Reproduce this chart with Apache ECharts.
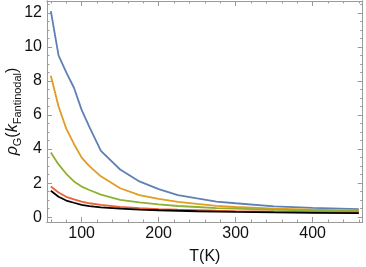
<!DOCTYPE html>
<html><head><meta charset="utf-8">
<script src="https://cdn.jsdelivr.net/npm/echarts@6/dist/echarts.min.js"></script>
<style>html,body{margin:0;padding:0;background:#fff}#c{width:366px;height:267px}</style>
</head><body><div id="c"></div>
<script>
const T = [60,70,80,90,100,110,125,150,175,200,225,250,275,300,350,400,460];
const blue   = [12.1,9.5,8.5,7.6,6.3,5.3,3.9,2.8,2.1,1.65,1.3,1.1,0.92,0.82,0.64,0.55,0.48];
const orange = [8.3,6.5,5.2,4.3,3.5,3.0,2.4,1.7,1.3,1.08,0.9,0.78,0.67,0.6,0.5,0.44,0.39];
const green  = [3.8,3.1,2.55,2.1,1.8,1.6,1.33,1.02,0.87,0.75,0.66,0.6,0.54,0.5,0.44,0.4,0.36];
const red    = [1.8,1.45,1.2,1.05,0.92,0.82,0.72,0.6,0.53,0.48,0.44,0.41,0.38,0.36,0.33,0.31,0.29];
const black  = [1.55,1.2,0.98,0.85,0.73,0.65,0.58,0.5,0.45,0.41,0.38,0.35,0.33,0.31,0.28,0.26,0.24];
const xMajor = [100,200,300,400];
const xMinor = [60,80,120,140,160,180,220,240,260,280,320,340,360,380,420,440,460];
const yMajor = [0,2,4,6,8,10,12];
const yMinor = [0.5,1,1.5,2.5,3,3.5,4.5,5,5.5,6.5,7,7.5,8.5,9,9.5,10.5,11,11.5,12.5];

const FRAME = '#9a9a9a';
const FONT = 'Liberation Sans';
function xAx(pos, vals, len, labels, extra) {
  return Object.assign({
    type:'value', min:55, max:465, position:pos,
    axisLine:{show:true, onZero:false, lineStyle:{color:FRAME, width:1}},
    axisTick:{show:true, inside:true, length:len, customValues:vals, lineStyle:{color:FRAME}},
    axisLabel:{show:labels, customValues:vals, fontFamily:FONT, fontSize:16, color:'#111', margin:4},
    splitLine:{show:false}
  }, extra||{});
}
function yAx(pos, vals, len, labels, extra) {
  return Object.assign({
    type:'value', min:-0.28, max:12.69, position:pos,
    axisLine:{show:true, onZero:false, lineStyle:{color:FRAME, width:1}},
    axisTick:{show:true, inside:true, length:len, customValues:vals, lineStyle:{color:FRAME}},
    axisLabel:{show:labels, customValues:vals, fontFamily:FONT, fontSize:16, color:'#111', margin:5},
    splitLine:{show:false}
  }, extra||{});
}
function ser(d, color) {
  return {type:'line', data:T.map((t,i)=>[t,d[i]]), showSymbol:false, symbol:'none',
    lineStyle:{color:color, width:1.8}, itemStyle:{color:color}, animation:false, z:3};
}
const chart = echarts.init(document.getElementById('c'), null, {renderer:'canvas'});
chart.setOption({
  animation:false,
  grid:{left:47, right:3.3, top:1, bottom:45, containLabel:false, outerBoundsMode:'none'},
  xAxis:[
    xAx('bottom', xMajor, 5, true, {name:'T(K)', nameLocation:'middle', nameGap:27, nameMoveOverlap:false,
      nameTextStyle:{fontFamily:FONT, fontSize:16, color:'#111'}}),
    xAx('bottom', xMinor, 2.5, false),
    xAx('top', xMajor, 5, false),
    xAx('top', xMinor, 2.5, false)
  ],
  yAxis:[
    yAx('left', yMajor, 5, true, {name:'{i|ρ}{s|G}{n|(}{i|k}{s|Fantinodal}{n|)}', nameLocation:'middle', nameGap:24, nameRotate:90, nameMoveOverlap:false,
      nameTextStyle:{fontFamily:FONT, fontSize:16, color:'#111',
        rich:{
          i:{fontFamily:FONT, fontSize:16, fontStyle:'italic', color:'#111', lineHeight:21, verticalAlign:'middle'},
          n:{fontFamily:FONT, fontSize:16, color:'#111', lineHeight:21, verticalAlign:'middle'},
          s:{fontFamily:FONT, fontSize:11, color:'#111', lineHeight:11, verticalAlign:'bottom'}
        }}}),
    yAx('left', yMinor, 2.5, false),
    yAx('right', yMajor, 5, false),
    yAx('right', yMinor, 2.5, false)
  ],
  series:[ser(blue,'#5E81B5'), ser(orange,'#E19C24'), ser(green,'#8FB032'), ser(red,'#EB6235'), ser(black,'#000000')]
});
</script></body></html>
